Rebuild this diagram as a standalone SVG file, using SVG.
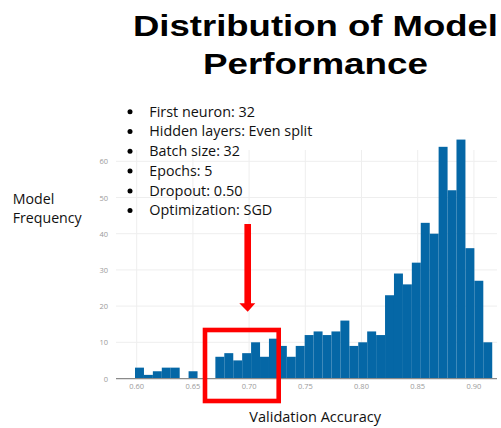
<svg xmlns="http://www.w3.org/2000/svg" width="501" height="428" viewBox="0 0 501 428">
<style>
.title{font-family:"Liberation Sans",Arial,sans-serif;font-weight:bold;font-size:30px;fill:#000}
.body{font-family:"Open Sans","Liberation Sans",sans-serif;font-size:15px;fill:#111}
.tick{font-family:"Open Sans","Liberation Sans",sans-serif;font-size:7.5px;fill:#9a9a9a}
.grid{stroke:#eeeeee;stroke-width:1;fill:none}
.axis{stroke:#8a8a8a;stroke-width:1.2}
.bar{fill:#0567a6}
.red{fill:none;stroke:#ff0000;stroke-width:4.6}
</style>
<rect width="501" height="428" fill="#ffffff"/>
<g id="title">
<text class="title" x="133" y="36" textLength="365" lengthAdjust="spacingAndGlyphs">Distribution of Model</text>
<text class="title" x="203" y="73.5" textLength="225" lengthAdjust="spacingAndGlyphs">Performance</text>
</g>
<g id="grid">
<path class="grid" d="M116 342.3H497M116 306.1H497M116 269.9H497M116 233.7H497M116 197.5H497M116 161.3H497"/>
<path class="grid" d="M136.7 150V378M192.9 150V378M249.1 150V378M305.3 150V378M361.5 150V378M417.7 150V378M473.9 150V378"/>
</g>
<g id="bars" transform="matrix(1 0 0 -3.62 0 378.5)">
<rect class="bar" x="135.00" y="0" width="8.96" height="3"/>
<rect class="bar" x="143.93" y="0" width="8.96" height="1"/>
<rect class="bar" x="152.86" y="0" width="8.96" height="2"/>
<rect class="bar" x="161.79" y="0" width="8.96" height="3"/>
<rect class="bar" x="170.72" y="0" width="8.96" height="3"/>
<rect class="bar" x="188.58" y="0" width="8.96" height="2"/>
<rect class="bar" x="215.37" y="0" width="8.96" height="6"/>
<rect class="bar" x="224.30" y="0" width="8.96" height="7"/>
<rect class="bar" x="233.23" y="0" width="8.96" height="5"/>
<rect class="bar" x="242.16" y="0" width="8.96" height="7"/>
<rect class="bar" x="251.09" y="0" width="8.96" height="10"/>
<rect class="bar" x="260.02" y="0" width="8.96" height="6"/>
<rect class="bar" x="268.95" y="0" width="8.96" height="11"/>
<rect class="bar" x="277.88" y="0" width="8.96" height="9"/>
<rect class="bar" x="286.81" y="0" width="8.96" height="6"/>
<rect class="bar" x="295.74" y="0" width="8.96" height="9"/>
<rect class="bar" x="304.67" y="0" width="8.96" height="12"/>
<rect class="bar" x="313.60" y="0" width="8.96" height="13"/>
<rect class="bar" x="322.53" y="0" width="8.96" height="12"/>
<rect class="bar" x="331.46" y="0" width="8.96" height="13"/>
<rect class="bar" x="340.39" y="0" width="8.96" height="16"/>
<rect class="bar" x="349.32" y="0" width="8.96" height="9"/>
<rect class="bar" x="358.25" y="0" width="8.96" height="10"/>
<rect class="bar" x="367.18" y="0" width="8.96" height="13"/>
<rect class="bar" x="376.11" y="0" width="8.96" height="12"/>
<rect class="bar" x="385.04" y="0" width="8.96" height="23"/>
<rect class="bar" x="393.97" y="0" width="8.96" height="29"/>
<rect class="bar" x="402.90" y="0" width="8.96" height="26"/>
<rect class="bar" x="411.83" y="0" width="8.96" height="32"/>
<rect class="bar" x="420.76" y="0" width="8.96" height="43"/>
<rect class="bar" x="429.69" y="0" width="8.96" height="40"/>
<rect class="bar" x="438.62" y="0" width="8.96" height="64"/>
<rect class="bar" x="447.55" y="0" width="8.96" height="52"/>
<rect class="bar" x="456.48" y="0" width="8.96" height="66"/>
<rect class="bar" x="465.41" y="0" width="8.96" height="36"/>
<rect class="bar" x="474.34" y="0" width="8.96" height="27"/>
<rect class="bar" x="483.27" y="0" width="8.96" height="10"/>
</g>
<g id="axis">
<line class="axis" x1="116" y1="378.6" x2="497" y2="378.6"/>
<g class="tick" text-anchor="end">
<text x="108" y="381.6">0</text>
<text x="108" y="345.3">10</text>
<text x="108" y="309.1">20</text>
<text x="108" y="272.9">30</text>
<text x="108" y="236.7">40</text>
<text x="108" y="200.5">50</text>
<text x="108" y="164.3">60</text>
</g>
<g class="tick" text-anchor="middle">
<text x="136.7" y="389">0.60</text>
<text x="192.9" y="389">0.65</text>
<text x="249.1" y="389">0.70</text>
<text x="305.3" y="389">0.75</text>
<text x="361.5" y="389">0.80</text>
<text x="417.7" y="389">0.85</text>
<text x="473.9" y="389">0.90</text>
</g>
</g>
<g id="ylabel">
<text class="body" x="12.7" y="204" textLength="41.6" lengthAdjust="spacingAndGlyphs">Model</text>
<text class="body" x="12.7" y="223.3" textLength="69" lengthAdjust="spacingAndGlyphs">Frequency</text>
</g>
<g id="xlabel">
<text class="body" x="249.3" y="421.7" textLength="131.7" lengthAdjust="spacingAndGlyphs">Validation Accuracy</text>
</g>
<g id="bullets">
<circle cx="130" cy="111.8" r="2.5" fill="#000"/>
<circle cx="130" cy="131.6" r="2.5" fill="#000"/>
<circle cx="130" cy="151.3" r="2.5" fill="#000"/>
<circle cx="130" cy="171.1" r="2.5" fill="#000"/>
<circle cx="130" cy="190.9" r="2.5" fill="#000"/>
<circle cx="130" cy="210.6" r="2.5" fill="#000"/>
<text class="body" x="149.3" y="116.6" textLength="105.7" lengthAdjust="spacingAndGlyphs">First neuron: 32</text>
<text class="body" x="149.3" y="136.4" textLength="163" lengthAdjust="spacingAndGlyphs">Hidden layers: Even split</text>
<text class="body" x="149.3" y="156.1" textLength="90.7" lengthAdjust="spacingAndGlyphs">Batch size: 32</text>
<text class="body" x="149.3" y="175.9" textLength="63" lengthAdjust="spacingAndGlyphs">Epochs: 5</text>
<text class="body" x="149.3" y="195.7" textLength="93.3" lengthAdjust="spacingAndGlyphs">Dropout: 0.50</text>
<text class="body" x="149.3" y="215.4" textLength="123" lengthAdjust="spacingAndGlyphs">Optimization: SGD</text>
</g>
<g id="highlight">
<rect class="red" x="205" y="330" width="73.7" height="71"/>
<path id="arrow" d="M244.4 224H251V303.3H255.3L247.7 311.7L239.3 303.3H244.4Z" fill="#ff0000"/>
</g>
</svg>
